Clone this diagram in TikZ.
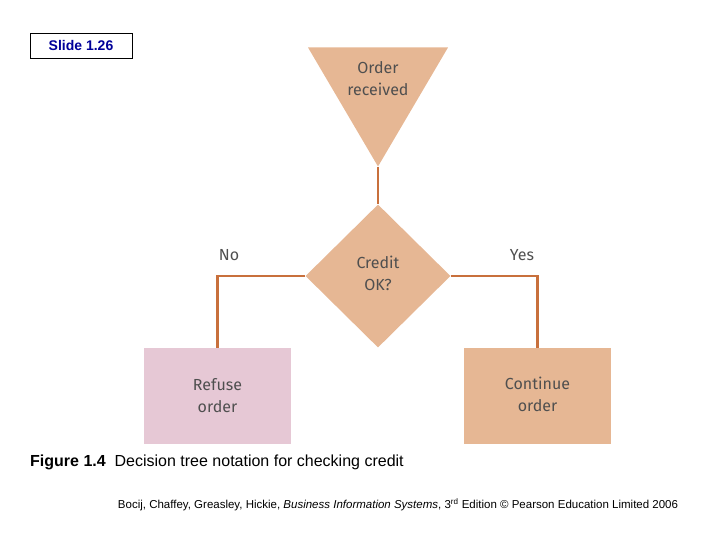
\documentclass[tikz,border=0pt]{standalone}
\usepackage{fontspec}
\setmainfont{Liberation Sans}
\newfontfamily\labfont{Fira Sans}
\usetikzlibrary{shapes.geometric,positioning}
\definecolor{tan}{HTML}{E6B794}
\definecolor{pinkbox}{HTML}{E6C8D5}
\definecolor{linkc}{HTML}{C8703C}
\definecolor{txt}{HTML}{4F4F4F}
\tikzset
{
    start/.style = {isosceles triangle, isosceles triangle stretches, shape border rotate=-90, fill=tan, minimum height=119pt, minimum width=140pt, inner sep=0pt, anchor=apex},
    decision/.style = {diamond, fill=tan, minimum width=145pt, minimum height=143pt, inner sep=0pt},
    outcome/.style = {rectangle, minimum width=147pt, minimum height=96pt, inner sep=0pt, anchor=north},
    label/.style = {text=txt, align=center, font=\labfont\fontsize{16}{22}\selectfont},
    link/.style = {draw=linkc, line width=2.6pt}
}
\begin{document}
\begin{tikzpicture}[x=1pt,y=-1pt]
   \useasboundingbox (0,0) rectangle (720,540);

   \node (slide) [draw, thick, minimum width=102pt, minimum height=25pt, font=\bfseries\fontsize{14}{16}\selectfont, text=blue!60!black] at (81,45.5) {Slide 1.26};

   \node (ord)  [start]           at (378,167)   {};
   \node (ordt) [label]           at (378,79)    {Order\\received};
   \node (cred) [decision]        at (378,276)   {};
   \node (credt)[label]           at (378,273)   {Credit\\OK?};
   \node (ref)  [outcome, fill=pinkbox] at (217.5,348) {};
   \node (reft) [label]           at (217.5,396) {Refuse\\order};
   \node (cont) [outcome, fill=tan]     at (537.5,348) {};
   \node (contt)[label]           at (537.5,394) {Continue\\order};

   \node (no)   [label]           at (229,255)   {No};
   \node (yes)  [label]           at (522,255)   {Yes};

   \path[link] (ord.apex) -- (cred.north);
   \path[link] (cred.west) -| (ref.north);
   \path[link] (cred.east) -| (cont.north);

   \node (cap) [anchor=west, inner sep=0pt, font=\fontsize{16}{18}\selectfont] at (30,462) {\textbf{Figure 1.4}\ \ Decision tree notation for checking credit};
   \node (src) [font=\fontsize{11.5}{13}\selectfont] at (398,505) {Bocij, Chaffey, Greasley, Hickie, \textit{Business Information Systems}, 3\textsuperscript{rd} Edition © Pearson Education Limited 2006};
\end{tikzpicture}
\end{document}
